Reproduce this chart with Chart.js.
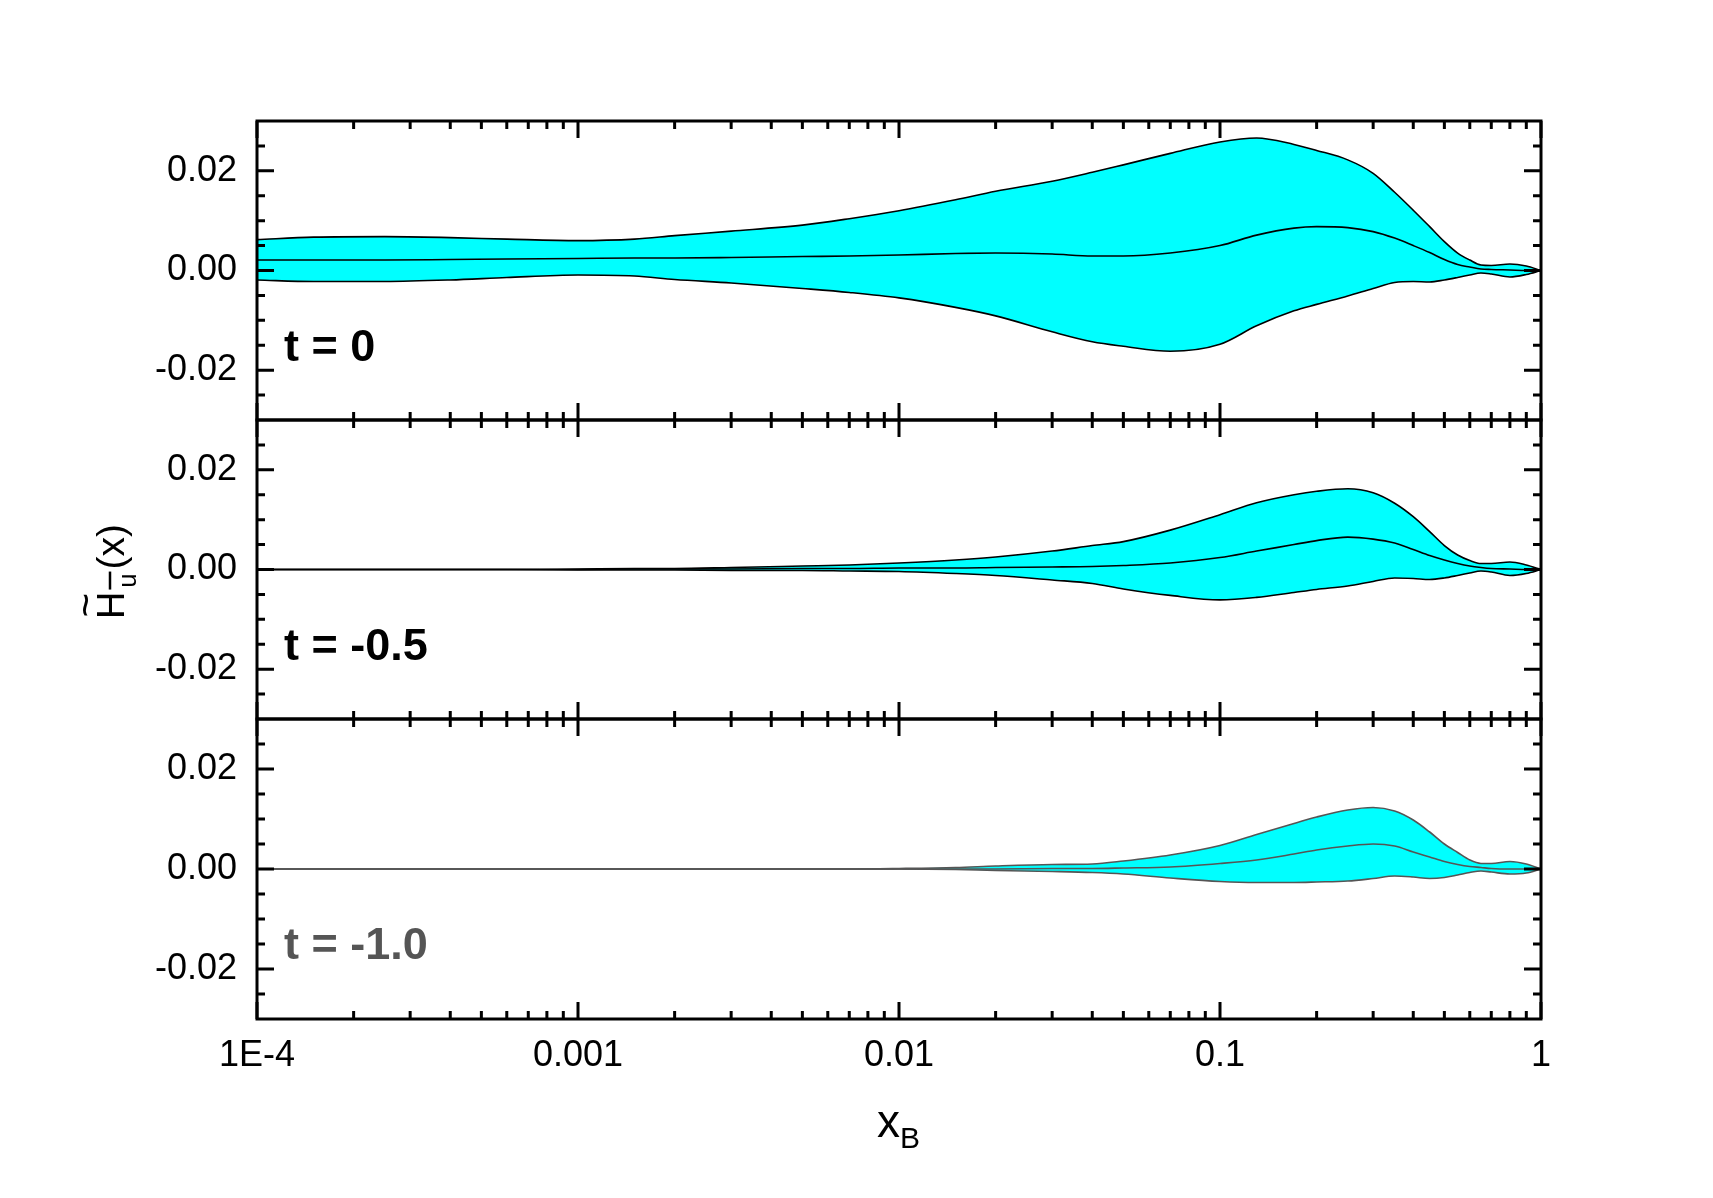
<!DOCTYPE html>
<html>
<head>
<meta charset="utf-8">
<script src="https://cdn.jsdelivr.net/npm/chart.js@4.4.1/dist/chart.umd.min.js"></script>
<style>
  html, body { margin: 0; padding: 0; background: #fff; }
  #wrap { position: relative; width: 1713px; height: 1198px; }
  #wrap canvas { position: absolute; left: 0; top: 0; }
</style>
</head>
<body>
<div id="wrap">
  <canvas id="panel0" width="1713" height="1198"></canvas>
  <canvas id="panel1" width="1713" height="1198"></canvas>
  <canvas id="panel2" width="1713" height="1198"></canvas>
</div>
<script>
// x grid shared by all three bands
const xB = [1e-4, 1.5e-4, 2.5e-4, 4e-4, 6e-4, 1e-3, 1.5e-3, 2e-3, 3e-3, 5e-3, 7e-3,
  0.01, 0.015, 0.02, 0.03, 0.04, 0.05, 0.07, 0.1, 0.13, 0.17, 0.2, 0.25, 0.3, 0.35,
  0.4, 0.45, 0.5, 0.55, 0.6, 0.65, 0.7, 0.8, 0.9, 1.0];

// t = 0
const upperT0 = [0.0062, 0.0067, 0.0068, 0.0066, 0.0063, 0.0060, 0.0063, 0.0070, 0.0079, 0.0091, 0.0104,
  0.0120, 0.0142, 0.0159, 0.0179, 0.0197, 0.0212, 0.0235, 0.0258, 0.0266, 0.0253, 0.0241, 0.0222, 0.0195, 0.0157,
  0.0121, 0.0088, 0.0058, 0.0035, 0.0021, 0.0011, 0.0010, 0.0013, 0.0009, 0.0];
const centralT0 = [0.0021, 0.0021, 0.0021, 0.0022, 0.0023, 0.0024, 0.0025, 0.0025, 0.0026, 0.0028, 0.0029,
  0.0031, 0.0034, 0.0035, 0.0033, 0.0029, 0.0029, 0.0035, 0.0050, 0.0071, 0.0085, 0.0088, 0.0086, 0.0078, 0.0065,
  0.0050, 0.0036, 0.0022, 0.0012, 0.0007, 0.0003, 0.0002, 0.0001, 0.0, 0.0];
const lowerT0 = [-0.0019, -0.0022, -0.0022, -0.0019, -0.0014, -0.0009, -0.0011, -0.0018, -0.0025, -0.0036, -0.0044,
  -0.0055, -0.0074, -0.0091, -0.0123, -0.0143, -0.0152, -0.0162, -0.0148, -0.0111, -0.0081, -0.0068, -0.0051, -0.0036, -0.0024,
  -0.0022, -0.0023, -0.0019, -0.0014, -0.0009, -0.0005, -0.0007, -0.0013, -0.0008, 0.0];

// t = -0.5
const upperT05 = [0, 0, 0, 0, 0, 0.0001, 0.0002, 0.0002, 0.0004, 0.0007, 0.0009,
  0.0013, 0.0019, 0.0025, 0.0037, 0.0048, 0.0056, 0.0079, 0.0110, 0.0134, 0.0150, 0.0157, 0.0162, 0.0154, 0.0133,
  0.0106, 0.0076, 0.0048, 0.0029, 0.0018, 0.0012, 0.0012, 0.0015, 0.0009, 0];
const centralT05 = [0, 0, 0, 0, 0, 0, 0.0001, 0.0001, 0.0001, 0.0002, 0.0002,
  0.0003, 0.0003, 0.0004, 0.0005, 0.0006, 0.0008, 0.0013, 0.0024, 0.0037, 0.0050, 0.0058, 0.0065, 0.0061, 0.0053,
  0.0040, 0.0028, 0.0019, 0.0012, 0.0007, 0.0004, 0.0002, 0.0001, 0, 0];
const lowerT05 = [0, 0, 0, 0, 0, -0.0001, -0.0001, -0.0001, -0.0002, -0.0002, -0.0003,
  -0.0004, -0.0008, -0.0012, -0.0021, -0.0028, -0.0039, -0.0052, -0.0061, -0.0056, -0.0046, -0.0040, -0.0033, -0.0024, -0.0017,
  -0.0018, -0.0020, -0.0017, -0.0012, -0.0007, -0.0003, -0.0005, -0.0012, -0.0008, 0];

// t = -1.0
const upperT10 = [0, 0, 0, 0, 0, 0, 0, 0, 0, 0, 0,
  0.0001, 0.0003, 0.0006, 0.0009, 0.0010, 0.0016, 0.0028, 0.0047, 0.0069, 0.0091, 0.0104, 0.0118, 0.0123, 0.0116,
  0.0098, 0.0074, 0.0050, 0.0033, 0.0018, 0.0011, 0.0011, 0.0015, 0.0010, 0];
const centralT10 = [0, 0, 0, 0, 0, 0, 0, 0, 0, 0, 0,
  0, 0, 0, 0.0001, 0.0001, 0.0002, 0.0004, 0.0011, 0.0018, 0.0030, 0.0038, 0.0046, 0.0050, 0.0046,
  0.0034, 0.0024, 0.0015, 0.0009, 0.0005, 0.0003, 0.0001, 0, 0, 0];
const lowerT10 = [0, 0, 0, 0, 0, 0, 0, 0, 0, 0, 0,
  0, -0.0001, -0.0003, -0.0005, -0.0007, -0.0010, -0.0018, -0.0025, -0.0027, -0.0027, -0.0026, -0.0024, -0.0019, -0.0014,
  -0.0016, -0.0019, -0.0017, -0.0012, -0.0007, -0.0004, -0.0006, -0.0010, -0.0008, 0];

const panelLabels = ['t = 0', 't = -0.5', 't = -1.0'];
const xTickValues = [1e-4, 1e-3, 1e-2, 1e-1, 1];
const xTickLabels = ['1E-4', '0.001', '0.01', '0.1', '1'];
const yTickValues = [-0.02, 0, 0.02];
const yTickLabels = ['-0.02', '0.00', '0.02'];

const FONT = '"Liberation Sans", Arial, sans-serif';
const panelTops = [121, 420, 719];
const panelBottoms = [420, 719, 1019];

const xMinor = [];
xTickValues.slice(0, -1).forEach(d => { for (let m = 2; m <= 9; m++) xMinor.push(m * d); });
const yMinor = [];
for (let v = -0.025; v < 0.03; v += 0.005) yMinor.push(Math.round(v * 1000) / 1000);

const pts = arr => arr.map((v, i) => ({ x: xB[i], y: v }));

const framePlugin = {
  id: 'frame',
  afterDraw(chart, args, opts) {
    const { ctx, chartArea: a, scales: { x, y } } = chart;
    ctx.save();
    ctx.strokeStyle = '#000';
    ctx.lineWidth = 3;
    ctx.strokeRect(a.left, a.top, a.right - a.left, a.bottom - a.top);

    const seg = (x1, y1, x2, y2) => { ctx.moveTo(x1, y1); ctx.lineTo(x2, y2); };
    ctx.beginPath();
    xTickValues.forEach(v => {
      const px = x.getPixelForValue(v);
      seg(px, a.top, px, a.top + 17);
      seg(px, a.bottom, px, a.bottom - 17);
    });
    xMinor.forEach(v => {
      const px = x.getPixelForValue(v);
      seg(px, a.top, px, a.top + 8);
      seg(px, a.bottom, px, a.bottom - 8);
    });
    yTickValues.forEach(v => {
      const py = y.getPixelForValue(v);
      seg(a.left, py, a.left + 17, py);
      seg(a.right, py, a.right - 17, py);
    });
    yMinor.forEach(v => {
      const py = y.getPixelForValue(v);
      seg(a.left, py, a.left + 8, py);
      seg(a.right, py, a.right - 8, py);
    });
    ctx.stroke();

    // y tick labels
    ctx.fillStyle = '#000';
    ctx.font = '36px ' + FONT;
    ctx.textAlign = 'right';
    ctx.textBaseline = 'middle';
    yTickValues.forEach((v, i) => ctx.fillText(yTickLabels[i], a.left - 20, y.getPixelForValue(v)));

    // panel label
    ctx.font = 'bold 45px ' + FONT;
    ctx.textAlign = 'left';
    ctx.textBaseline = 'alphabetic';
    ctx.fillStyle = opts.labelColor;
    ctx.fillText(opts.label, 284, a.top + 240);

    if (opts.xLabels) {
      ctx.fillStyle = '#000';
      ctx.font = '36px ' + FONT;
      ctx.textAlign = 'center';
      ctx.textBaseline = 'middle';
      xTickValues.forEach((v, i) => ctx.fillText(xTickLabels[i], x.getPixelForValue(v), a.bottom + 37));
      // x axis title
      const cx = (a.left + a.right) / 2;
      ctx.textBaseline = 'alphabetic';
      ctx.textAlign = 'right';
      ctx.font = '46px ' + FONT;
      ctx.fillText('x', cx + 1, 1137);
      ctx.textAlign = 'left';
      ctx.font = '30px ' + FONT;
      ctx.fillText('B', cx + 1, 1148);
    }

    if (opts.yTitle) {
      ctx.save();
      ctx.translate(124, 619);
      ctx.rotate(-Math.PI / 2);
      ctx.fillStyle = '#000';
      ctx.textAlign = 'left';
      ctx.textBaseline = 'alphabetic';
      ctx.font = '38px ' + FONT;
      ctx.fillText('H', 0, 0);
      const hW = ctx.measureText('H').width;
      ctx.font = '42px ' + FONT;
      ctx.textAlign = 'center';
      ctx.fillText('~', hW / 2, -24);
      ctx.textAlign = 'left';
      ctx.font = '25px ' + FONT;
      ctx.fillText('u', hW + 4, 12);
      ctx.strokeStyle = '#000';
      ctx.lineWidth = 2.5;
      ctx.beginPath();
      ctx.moveTo(hW + 2, -14);
      ctx.lineTo(hW + 20, -14);
      ctx.stroke();
      ctx.font = '39px ' + FONT;
      ctx.fillText('(x)', hW + 22, 0);
      ctx.restore();
    }
    ctx.restore();
  }
};

const panels = [
  { id: 'panel0', upper: upperT0, central: centralT0, lower: lowerT0, line: '#000', labelColor: '#000' },
  { id: 'panel1', upper: upperT05, central: centralT05, lower: lowerT05, line: '#000', labelColor: '#000' },
  { id: 'panel2', upper: upperT10, central: centralT10, lower: lowerT10, line: '#555', labelColor: '#555' }
];

panels.forEach((p, i) => {
  const lineStyle = {
    borderColor: p.line,
    borderWidth: 1.6,
    pointRadius: 0,
    cubicInterpolationMode: 'monotone'
  };
  new Chart(document.getElementById(p.id).getContext('2d'), {
    type: 'line',
    data: {
      datasets: [
        { label: 'upper', data: pts(p.upper), fill: '+2', backgroundColor: '#00ffff', ...lineStyle },
        { label: 'central', data: pts(p.central), fill: false, ...lineStyle },
        { label: 'lower', data: pts(p.lower), fill: false, ...lineStyle }
      ]
    },
    options: {
      responsive: false,
      animation: false,
      devicePixelRatio: 1,
      layout: { padding: { left: 257, right: 1713 - 1541, top: panelTops[i], bottom: 1198 - panelBottoms[i] } },
      plugins: {
        legend: { display: false },
        tooltip: { enabled: false },
        filler: { drawTime: 'beforeDatasetsDraw' },
        frame: { label: panelLabels[i], labelColor: p.labelColor, xLabels: i === 2, yTitle: i === 1 }
      },
      scales: {
        x: { type: 'logarithmic', min: 1e-4, max: 1, display: false },
        y: { min: -0.03, max: 0.03, display: false }
      }
    },
    plugins: [framePlugin]
  });
});
</script>
</body>
</html>
